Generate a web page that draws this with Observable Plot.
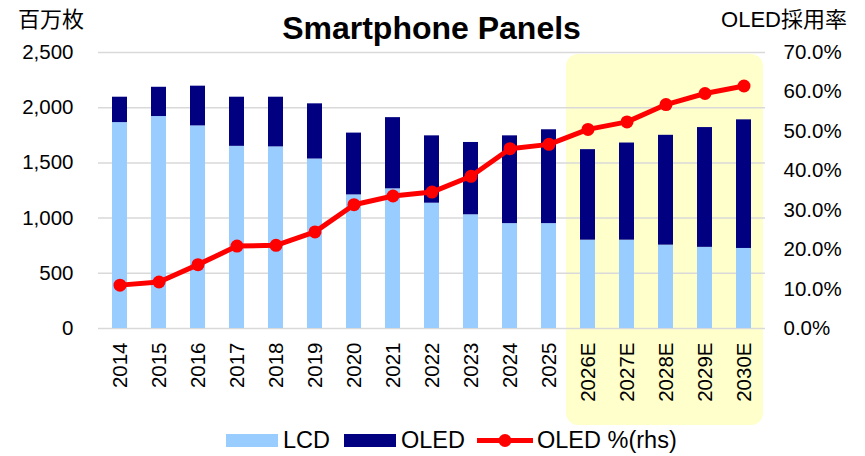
<!DOCTYPE html>
<html>
<head>
<meta charset="utf-8">
<script src="https://cdn.jsdelivr.net/npm/d3@7"></script>
<script src="https://cdn.jsdelivr.net/npm/@observablehq/plot@0.6"></script>
<style>
  html, body { margin: 0; padding: 0; background: #fff; }
  #chart { width: 865px; height: 456px; }
</style>
</head>
<body>
<div id="chart"></div>
<script>
const years = ["2014","2015","2016","2017","2018","2019","2020","2021","2022","2023","2024","2025","2026E","2027E","2028E","2029E","2030E"];
const lcd  = [1865, 1920, 1835, 1650, 1645, 1535, 1210, 1265, 1135, 1030, 950, 950, 800, 800, 755, 735, 725];
const oled = [230, 265, 360, 445, 450, 500, 560, 645, 610, 655, 795, 850, 820, 880, 995, 1085, 1165];
const oledPct = [11.0, 11.8, 16.2, 20.9, 21.1, 24.5, 31.4, 33.6, 34.6, 38.6, 45.6, 46.7, 50.5, 52.4, 56.8, 59.6, 61.5];
const leftTicks = [0, 500, 1000, 1500, 2000, 2500];
const rightTicks = [0, 10, 20, 30, 40, 50, 60, 70];
const forecastYears = ["2026E","2027E","2028E","2029E","2030E"];
const seriesNames = ["LCD", "OLED"];
const colors = {LCD: "#99CCFF", OLED: "#000080", line: "#FF0000"};

const FONT = "'Liberation Sans', Arial, sans-serif";
const CJK = "'Liberation Sans', 'Noto Sans CJK JP', sans-serif";
const ratio = 2500 / 70; // right axis (%) mapped onto left axis units

const rows = [];
years.forEach((y, i) => {
  rows.push({year: y, series: "LCD", value: lcd[i]});
  rows.push({year: y, series: "OLED", value: oled[i]});
});
const pctRows = years.map((y, i) => ({year: y, pct: oledPct[i]}));

const chart = Plot.plot({
  width: 865,
  height: 456,
  marginTop: 52,
  marginBottom: 128,
  marginLeft: 98,
  marginRight: 100,
  style: {fontFamily: FONT, fontSize: "20.5px", color: "#000", background: "transparent", overflow: "visible"},
  x: {domain: years, paddingInner: 0.61, paddingOuter: 0.305, label: null},
  y: {domain: [0, 2500], label: null},
  color: {domain: seriesNames, range: [colors.LCD, colors.OLED]},
  marks: [
    Plot.gridY(leftTicks, {stroke: "#D9D9D9", strokeOpacity: 1, strokeWidth: 1.5}),
    Plot.barY(rows, {x: "year", y: "value", fill: "series"}),
    Plot.line(pctRows, {x: "year", y: d => d.pct * ratio, stroke: colors.line, strokeWidth: 5}),
    Plot.dot(pctRows, {x: "year", y: d => d.pct * ratio, r: 6.5, fill: colors.line, stroke: "none"}),
    Plot.axisY(leftTicks, {anchor: "left", tickSize: 0, tickPadding: 25, tickFormat: d3.format(","), label: null}),
    Plot.axisY(rightTicks.map(p => p * ratio), {anchor: "right", tickSize: 0, tickPadding: 18, tickFormat: d => (d / ratio).toFixed(1) + "%", label: null}),
    Plot.axisX({tickRotate: -90, tickSize: 0, tickPadding: 14, label: null})
  ]
});

document.getElementById("chart").appendChild(chart);

const svg = d3.select(chart);
const xs = chart.scale("x");
const ys = chart.scale("y");
const center = v => xs.apply(v) + xs.bandwidth / 2;

// forecast highlight box (behind everything)
const bx0 = center(forecastYears[0]) - xs.step / 2 - 2;
const bx1 = center(forecastYears[forecastYears.length - 1]) + xs.step / 2;
const by0 = ys.apply(2500) + 2;
const by1 = ys.apply(0) + 97;
const firstG = chart.querySelector("g");
svg.insert("rect", () => firstG)
  .attr("x", bx0).attr("y", by0)
  .attr("width", bx1 - bx0).attr("height", by1 - by0)
  .attr("rx", 12).attr("ry", 12)
  .attr("fill", "#FFFFCC");

function addText(x, y, txt, opts) {
  return svg.append("text")
    .attr("x", x).attr("y", y)
    .attr("text-anchor", opts.anchor || "start")
    .style("font-family", opts.family || FONT)
    .style("font-size", (opts.size || 22) + "px")
    .style("font-weight", opts.weight || "normal")
    .attr("fill", "#000")
    .text(txt);
}

// title & axis titles
addText(431.5, 39, "Smartphone Panels", {anchor: "middle", size: 32, weight: "bold"});
addText(18, 27, "百万枚", {family: CJK, size: 22});
addText(847, 27, "OLED採用率", {anchor: "end", family: CJK, size: 22});

// legend
svg.append("rect").attr("x", 226).attr("y", 434).attr("width", 52).attr("height", 13).attr("fill", colors.LCD);
addText(283, 448, "LCD", {size: 23.5});
svg.append("rect").attr("x", 344).attr("y", 434).attr("width", 52).attr("height", 13).attr("fill", colors.OLED);
addText(401, 448, "OLED", {size: 23.5});
svg.append("line").attr("x1", 477).attr("x2", 533).attr("y1", 440.5).attr("y2", 440.5)
  .attr("stroke", colors.line).attr("stroke-width", 5);
svg.append("circle").attr("cx", 505).attr("cy", 440.5).attr("r", 6.5).attr("fill", colors.line);
addText(537, 448, "OLED %(rhs)", {size: 23.5});
</script>
</body>
</html>
